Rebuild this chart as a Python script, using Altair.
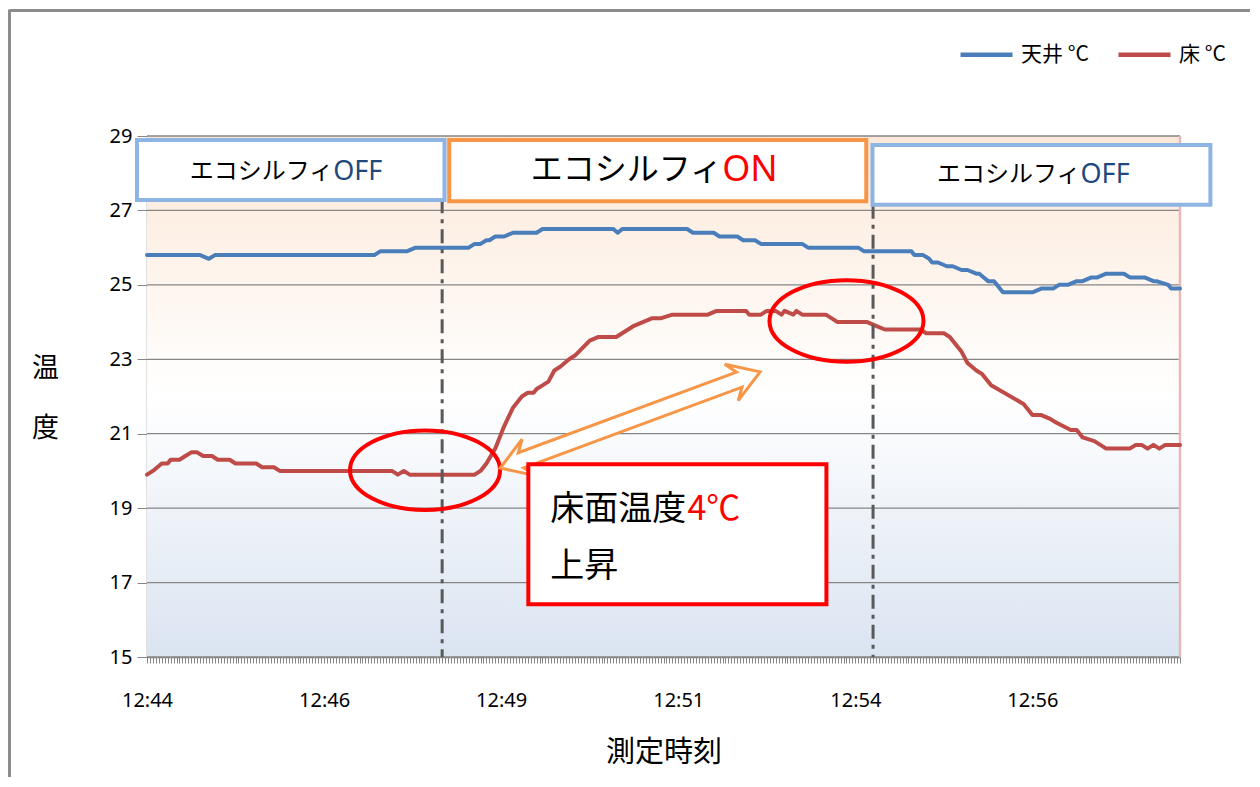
import altair as alt
import pandas as pd

# ---------------- data ----------------
# x = sample index (one axis tick per sample), labels every 60 samples
tick_positions = [0, 60, 120, 180, 240, 300]
tick_labels = ["12:44", "12:46", "12:49", "12:51", "12:54", "12:56"]
x_max = 350
y_ticks = [15, 17, 19, 21, 23, 25, 27, 29]

series_names = ["天井 °C", "床 °C"]

ceiling_idx = [0, 18, 21, 23, 77, 79, 88, 91, 109, 111, 113, 115, 116, 118, 121, 124, 132, 134,
               158, 159.5, 161, 183, 185, 192, 194, 200, 202, 206, 208, 222, 224, 241, 243, 259,
               260, 263, 265, 266, 268, 271, 273, 276, 278, 281, 282, 283.5, 285, 287, 290, 300,
               303, 307, 309, 312, 315, 317, 320, 322, 325, 331, 333, 338, 341, 342, 346, 347, 350]
ceiling_val = [25.8, 25.8, 25.7, 25.8, 25.8, 25.9, 25.9, 26.0, 26.0, 26.1, 26.1, 26.2, 26.2, 26.3, 26.3, 26.4, 26.4, 26.5,
               26.5, 26.4, 26.5, 26.5, 26.4, 26.4, 26.3, 26.3, 26.2, 26.2, 26.1, 26.1, 26.0, 26.0, 25.9, 25.9,
               25.8, 25.8, 25.7, 25.6, 25.6, 25.5, 25.5, 25.4, 25.4, 25.3, 25.3, 25.2, 25.1, 25.1, 24.8, 24.8,
               24.9, 24.9, 25.0, 25.0, 25.1, 25.1, 25.2, 25.2, 25.3, 25.3, 25.2, 25.2, 25.1, 25.1, 25.0, 24.9, 24.9]

floor_idx = [0, 2, 5, 7, 8, 11, 13, 15, 17, 19, 22, 24, 28, 30, 37, 39, 43, 45, 83, 85, 87, 89, 111,
             113, 115, 118, 121, 124, 127, 129, 131, 132, 134, 136, 138, 140, 143, 145, 150, 153, 159,
             165, 168, 171, 174, 178, 190, 193, 203, 204, 208, 210, 213, 215, 216, 219, 220, 222, 230,
             234, 244, 247, 250, 262, 264, 270, 272, 276, 278, 281, 283, 286, 297, 300, 303, 306, 308,
             313, 315, 317, 321, 325, 333, 335, 337, 339, 341, 343, 345, 350]
floor_val = [19.9, 20.0, 20.2, 20.2, 20.3, 20.3, 20.4, 20.5, 20.5, 20.4, 20.4, 20.3, 20.3, 20.2, 20.2, 20.1, 20.1, 20.0, 20.0, 19.9, 20.0, 19.9, 19.9,
             20.0, 20.2, 20.6, 21.2, 21.7, 22.0, 22.1, 22.1, 22.2, 22.3, 22.4, 22.7, 22.8, 23.0, 23.1, 23.5, 23.6, 23.6,
             23.9, 24.0, 24.1, 24.1, 24.2, 24.2, 24.3, 24.3, 24.2, 24.2, 24.3, 24.3, 24.2, 24.3, 24.2, 24.3, 24.2, 24.2,
             24.0, 24.0, 23.9, 23.8, 23.8, 23.7, 23.7, 23.6, 23.2, 22.9, 22.7, 22.6, 22.3, 21.8, 21.5, 21.5, 21.4, 21.3,
             21.1, 21.1, 20.9, 20.8, 20.6, 20.6, 20.7, 20.7, 20.6, 20.7, 20.6, 20.7, 20.7]

# switching moments (sample index)
switch_idx = [100, 246]

# ---------------- styles ----------------
FONT = "Noto Sans CJK JP"
BLUE = "#4A7EBB"
RED = "#BE4B48"
GRID = "#868686"

df = pd.concat([
    pd.DataFrame({"idx": ceiling_idx, "val": ceiling_val, "series": series_names[0]}),
    pd.DataFrame({"idx": floor_idx, "val": floor_val, "series": series_names[1]}),
])

xs = alt.Scale(domain=[0, x_max], nice=False, zero=False)
ys = alt.Scale(domain=[15, 29], nice=False, zero=False)

label_expr = "".join(
    f"datum.value == {p} ? '{l}' : " for p, l in zip(tick_positions, tick_labels)
) + "''"

X_TITLE = "測定時刻"
Y_TITLE = ["温", "度"]

x_axis = alt.Axis(values=list(range(0, x_max + 1)), labelExpr=label_expr, labelOverlap=False,
                  labelFlush=False, tickSize=6, tickColor=GRID, domainColor=GRID, domainWidth=1.5,
                  labelFontSize=20, labelPadding=27, labelColor="#000000", labelFont="Noto Sans",
                  grid=False, titleFontSize=29, titleFont=FONT, titleFontWeight="normal",
                  titleColor="#000000", titleY=95, titleBaseline="middle")
y_axis = alt.Axis(values=y_ticks, tickSize=10, tickColor=GRID, domainColor=GRID, domainWidth=1.5,
                  labelFontSize=20, labelPadding=5, labelColor="#000000", labelFont="Noto Sans",
                  grid=False, titleAngle=0, titleFontSize=27, titleFont=FONT,
                  titleFontWeight="normal", titleColor="#000000", titleLineHeight=60,
                  titleX=-102, titleY=232, titleBaseline="middle", titleAlign="center")


def X(field):
    return alt.X(field, scale=xs, axis=x_axis, title=X_TITLE)


def Y(field):
    return alt.Y(field, scale=ys, axis=y_axis, title=Y_TITLE)


# background gradient
bg = alt.Chart(pd.DataFrame({"x0": [0], "x1": [x_max], "y0": [15], "y1": [29]})).mark_rect(
    fill={"gradient": "linear", "x1": 0, "y1": 0, "x2": 0, "y2": 1,
          "stops": [{"offset": 0, "color": "#FCE8D8"},
                    {"offset": 0.5, "color": "#FFFFFF"},
                    {"offset": 1, "color": "#DAE4F1"}]}
).encode(x=X("x0:Q"), x2="x1:Q", y=Y("y0:Q"), y2="y1:Q")

grid = alt.Chart(pd.DataFrame({"g": y_ticks})).mark_rule(color=GRID, strokeWidth=1.3).encode(
    y=Y("g:Q")
)

right_edge = alt.Chart(pd.DataFrame({"x": [x_max], "y0": [15], "y1": [29]})).mark_rule(
    color="#E6B9B8", strokeWidth=2.5
).encode(x=X("x:Q"), y=Y("y0:Q"), y2="y1:Q")

lines = alt.Chart(df).mark_line(strokeWidth=4, strokeJoin="round", strokeCap="round").encode(
    x=X("idx:Q"),
    y=Y("val:Q"),
    color=alt.Color("series:N", scale=alt.Scale(domain=series_names, range=[BLUE, RED]),
                    legend=alt.Legend(orient="none", legendX=811, legendY=-110, direction="horizontal",
                                      title=None, symbolType="stroke", symbolStrokeWidth=4.5,
                                      symbolSize=2704, labelFontSize=21, labelFont=FONT,
                                      labelColor="#000000", columnPadding=20, labelOffset=6, padding=0)),
)

dash = alt.Chart(pd.DataFrame({"x": switch_idx, "y0": [27.3, 27.15], "y1": [15, 15]})).mark_rule(
    color="#595959", strokeWidth=3, strokeDash=[14, 6, 4, 6]
).encode(x=X("x:Q"), y=Y("y0:Q"), y2="y1:Q")

# ellipses (shape path)
k = 0.5523
r = 0.53
ellipse_path = (f"M -1 0 C -1 {-k*r:.4f} {-k:.4f} {-r} 0 {-r} C {k:.4f} {-r} 1 {-k*r:.4f} 1 0 "
                f"C 1 {k*r:.4f} {k:.4f} {r} 0 {r} C {-k:.4f} {r} -1 {k*r:.4f} -1 0 Z")
ell_df = pd.DataFrame({"x": [94.2, 237.0], "y": [20.02, 24.03], "s": [22500, 23716]})
ellipses = alt.Chart(ell_df).mark_point(
    shape=ellipse_path, filled=False, stroke="#FF0000", strokeWidth=4, opacity=1
).encode(x=X("x:Q"), y=Y("y:Q"), size=alt.Size("s:Q", scale=None, legend=None))

arrow_path = ("M -1 0 L -0.78 -0.14 L -0.84 -0.058 L 0.84 -0.058 L 0.78 -0.14 L 1 0 "
              "L 0.78 0.14 L 0.84 0.058 L -0.84 0.058 L -0.78 0.14 Z")
arrow = alt.Chart(pd.DataFrame({"x": [163.7], "y": [21.37]})).mark_point(
    shape=arrow_path, size=76729, angle=339.7, filled=True, fill="#FFFFFF", stroke="#F79646",
    strokeWidth=3, opacity=1, fillOpacity=1, strokeOpacity=1, strokeJoin="miter"
).encode(x=X("x:Q"), y=Y("y:Q"))

# annotation box
ann_box = alt.Chart(pd.DataFrame({"x0": [129.2], "x1": [230.2], "y0": [20.18], "y1": [16.42]})).mark_rect(
    fill="#FFFFFF", stroke="#FF0000", strokeWidth=4
).encode(x=X("x0:Q"), x2="x1:Q", y=Y("y0:Q"), y2="y1:Q")

ann_text_df = pd.DataFrame({
    "x": [136.6, 183.1, 136.6],
    "y": [18.95, 18.95, 17.42],
    "t": ["床面温度", "4℃", "上昇"],
    "c": ["#000000", "#FF0000", "#000000"],
})
ann_text = alt.Chart(ann_text_df).mark_text(
    font=FONT, fontSize=34, align="left", baseline="middle"
).encode(x=X("x:Q"), y=Y("y:Q"), text="t:N", color=alt.Color("c:N", scale=None, legend=None))

# mode boxes
box_df = pd.DataFrame({
    "x0": [-3.4, 102.4, 245.8], "x1": [100.8, 243.7, 360.3],
    "y0": [28.89, 28.89, 28.76], "y1": [27.28, 27.25, 27.15],
    "c": ["#8EB4E3", "#F79646", "#8EB4E3"],
})
boxes = alt.Chart(box_df).mark_rect(fill="#FFFFFF", strokeWidth=4).encode(
    x=X("x0:Q"), x2="x1:Q", y=Y("y0:Q"), y2="y1:Q",
    stroke=alt.Stroke("c:N", scale=None, legend=None))

box_txt_l = pd.DataFrame({"x": [63.1, 194.9, 316.3], "y": [28.03, 28.09, 27.95],
                          "t": ["エコシルフィ", "エコシルフィ", "エコシルフィ"], "fs": [24, 32, 24]})
box_txt_r = pd.DataFrame({"x": [63.1, 194.9, 316.3], "y": [28.03, 28.09, 27.95],
                          "t": ["OFF", "ON", "OFF"], "c": ["#1F497D", "#FF0000", "#1F497D"],
                          "fs": [27, 36, 27]})
btl = alt.Chart(box_txt_l).mark_text(font=FONT, align="right", baseline="middle", color="#000000").encode(
    x=X("x:Q"), y=Y("y:Q"), text="t:N", size=alt.Size("fs:Q", scale=None, legend=None))
btr = alt.Chart(box_txt_r).mark_text(font="Noto Sans", align="left", baseline="middle").encode(
    x=X("x:Q"), y=Y("y:Q"), text="t:N",
    color=alt.Color("c:N", scale=None, legend=None),
    size=alt.Size("fs:Q", scale=None, legend=None))

# outer chart border (decoration)
border_left = alt.Chart(pd.DataFrame({"a": [0]})).mark_rule(color="#8C8C8C", strokeWidth=3).encode(
    x=alt.value(-137.5), y=alt.value(-126.5), y2=alt.value(660))
border_top = alt.Chart(pd.DataFrame({"a": [0]})).mark_rule(color="#8C8C8C", strokeWidth=3).encode(
    x=alt.value(-137.5), x2=alt.value(1120), y=alt.value(-125.5))

chart = alt.layer(
    bg, grid, right_edge, lines, dash, ellipses, arrow, ann_box, ann_text, boxes, btl, btr,
    border_left, border_top
).properties(
    width=1033, height=521,
    padding={"left": 139, "top": 128, "right": 70, "bottom": 120},
    autosize=alt.AutoSizeParams(type="none"),
).configure_view(strokeWidth=0).configure(font=FONT)

chart.save("out.html", embed_options={"renderer": "svg", "actions": False})
